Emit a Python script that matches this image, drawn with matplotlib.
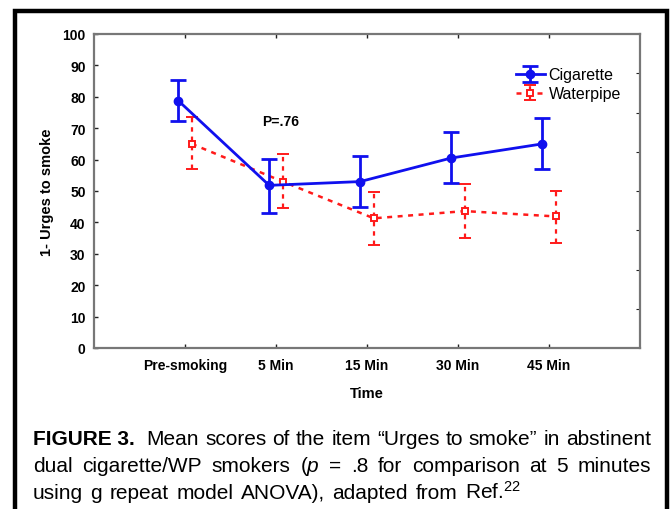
import matplotlib
matplotlib.use('Agg')
import matplotlib.pyplot as plt
from matplotlib.lines import Line2D

# values
time_labels = ['Pre-smoking', '5 Min', '15 Min', '30 Min', '45 Min']
cig_mean = [78.8, 51.8, 53.0, 60.5, 65.0]
cig_lo = [72.3, 43.0, 44.8, 52.5, 56.9]
cig_hi = [85.3, 60.3, 61.3, 68.7, 73.2]
wp_mean = [65.0, 53.0, 41.3, 43.6, 41.9]
wp_lo = [57.0, 44.6, 32.8, 35.0, 33.4]
wp_hi = [73.6, 61.9, 49.8, 52.2, 50.1]
y_ticks = [0, 10, 20, 30, 40, 50, 60, 70, 80, 90, 100]

W, H = 670, 510
plt.rcParams['font.family'] = ['Liberation Sans', 'DejaVu Sans']
plt.rcParams['mathtext.fontset'] = 'custom'
plt.rcParams['mathtext.rm'] = 'Liberation Sans'
plt.rcParams['mathtext.it'] = 'Liberation Sans:italic'

fig = plt.figure(figsize=(W / 100, H / 100), dpi=100)
ax = fig.add_axes([94 / W, 1 - 349 / H, 546 / W, 314 / H])

pos = list(range(1, len(time_labels) + 1))
off = 0.075
cig_x = [p - off for p in pos]
wp_x = [p + off for p in pos]

# error bars as offsets from the means
cig_err = [[m - lo for m, lo in zip(cig_mean, cig_lo)], [hi - m for m, hi in zip(cig_mean, cig_hi)]]
wp_err = [[m - lo for m, lo in zip(wp_mean, wp_lo)], [hi - m for m, hi in zip(wp_mean, wp_hi)]]

blue = '#1010ee'
red = '#ff1a1a'

ax.errorbar(cig_x, cig_mean, yerr=cig_err, color=blue, lw=2, marker='o', ms=6,
            capsize=5.5, capthick=2, elinewidth=2, label='Cigarette', zorder=3)
eb = ax.errorbar(wp_x, wp_mean, yerr=wp_err, color=red, lw=1.8, ls=(0, (2, 2.2)),
                 marker='s', ms=5, mfc='white', mec=red, mew=1.4,
                 capsize=4, capthick=1.6, elinewidth=1.6, label='Waterpipe', zorder=2)
eb[-1][0].set_linestyle((0, (2, 2.2)))

ax.set_xlim(0, 6)
ax.set_ylim(0, 100)
ax.set_xticks(pos)
ax.set_xticklabels(time_labels)
ax.set_yticks(y_ticks)
ax.tick_params(direction='in', length=3, width=1, colors='#222222', labelcolor='black',
               labelsize=10, top=True)
ax.tick_params(axis='y', pad=6)
ax.tick_params(axis='x', pad=7)
for lab in ax.get_xticklabels() + ax.get_yticklabels():
    lab.set_fontweight('bold')

# right-hand ticks are on a different spacing in the original
sec = ax.secondary_yaxis('right')
sec.set_yticks([12.5, 25, 37.5, 50, 62.5, 75, 87.5])
sec.tick_params(direction='in', length=3, labelright=False, colors='#222222')
sec.spines['right'].set_visible(False)

for s in ax.spines.values():
    s.set_color('#777777')
    s.set_linewidth(1.6)

ax.set_xlabel('Time', fontsize=10.5, fontweight='bold', labelpad=10)
ax.set_ylabel('1- Urges to smoke', fontsize=10.5, fontweight='bold', labelpad=6)

ax.text(2.05, 72.3, 'P=.76', fontsize=10, fontweight='bold', ha='center', va='center')

leg = ax.legend(loc='upper left', bbox_to_anchor=(0.758, 0.92), frameon=False,
                fontsize=11.5, handlelength=1.8, handletextpad=0.25, labelspacing=0.25,
                borderpad=0)

# black frame around the figure (open at the bottom)
fig.add_artist(Line2D([15 / W, 15 / W, 667 / W, 667 / W],
                      [-0.05, 1 - 12 / H, 1 - 12 / H, -0.05],
                      transform=fig.transFigure, color='black', lw=3.2, clip_on=False,
                      solid_joinstyle='miter'))

# caption, first two lines justified
cap_size = 15
fig.canvas.draw()
r = fig.canvas.get_renderer()


def put_line(words, y, x0=33, x1=651, justify=True):
    texts = [fig.text(0, 1 - y / H, w, fontsize=cap_size, va='baseline', ha='left', **kw)
             for w, kw in words]
    widths = [t.get_window_extent(r).width for t in texts]
    if justify:
        gap = (x1 - x0 - sum(widths)) / (len(texts) - 1)
    else:
        gap = 0.36 * cap_size * 100 / 72
    x = x0
    for t, w in zip(texts, widths):
        t.set_x(x / W)
        x += w + gap


line1 = [('FIGURE 3. ', {'fontweight': 'bold'})] + \
    [(w, {}) for w in 'Mean scores of the item “Urges to smoke” in abstinent'.split()]
line2 = [(w, {}) for w in ['dual', 'cigarette/WP', 'smokers', '($p$', '=', '.8', 'for',
                           'comparison', 'at', '5', 'minutes']]
line3 = [(w, {}) for w in ['using', 'g', 'repeat', 'model', 'ANOVA),', 'adapted', 'from',
                           r'Ref.$^{22}$']]

put_line(line1, 445)
put_line(line2, 472)
put_line(line3, 499, justify=False)

fig.savefig('out.png', dpi=100, facecolor='white')
